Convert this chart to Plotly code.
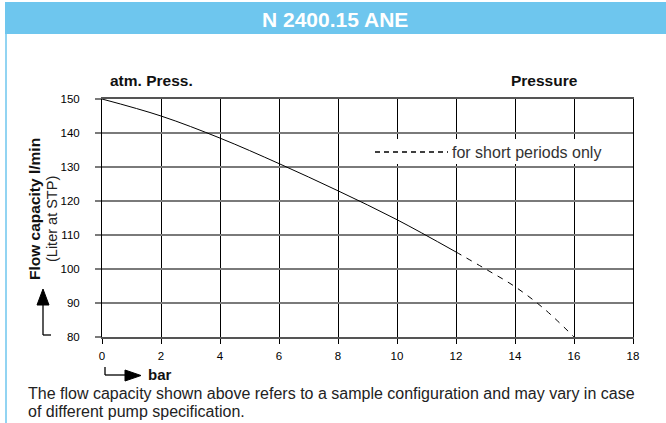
import plotly.graph_objects as go

# ---- data ----
pressure_solid = [0, 2, 4, 6, 8, 10, 12]
flow_solid = [150, 145, 138.5, 131, 123, 114.5, 105]
pressure_dashed = [12, 13, 14, 15, 16]
flow_dashed = [105, 100, 94.8, 88.2, 80]
x_ticks = [0, 2, 4, 6, 8, 10, 12, 14, 16, 18]
y_ticks = [80, 90, 100, 110, 120, 130, 140, 150]

W, H = 666, 423
L, R, T, B = 102, 633, 99, 337  # plot area in window pixels


def px(x):
    return (x - L) / (R - L)


def py(y):
    return (B - y) / (B - T)


fig = go.Figure()
fig.add_trace(go.Scatter(x=pressure_solid, y=flow_solid, mode="lines",
                         line=dict(color="black", width=1, shape="spline"),
                         showlegend=False, hoverinfo="skip"))
fig.add_trace(go.Scatter(x=pressure_dashed, y=flow_dashed, mode="lines",
                         line=dict(color="black", width=1, shape="spline", dash="6px,6px"),
                         showlegend=False, hoverinfo="skip"))

tickfont = dict(family="Liberation Sans Narrow, Liberation Sans, Arial", size=11.5, color="black")

fig.update_xaxes(range=[0, 18], tickvals=x_ticks, ticktext=[str(v) for v in x_ticks],
                 showgrid=True, gridcolor="black", gridwidth=1,
                 ticks="outside", ticklen=5, tickcolor="black", tickwidth=1,
                 showline=True, linecolor="#555", linewidth=2, mirror=True,
                 zeroline=False, tickfont=tickfont, fixedrange=True,
                 ticklabelstandoff=2)
fig.update_yaxes(range=[80, 150], tickvals=y_ticks, ticktext=[str(v) for v in y_ticks],
                 showgrid=True, gridcolor="#7a7a7a", gridwidth=2,
                 ticks="outside", ticklen=6, tickcolor="#7a7a7a", tickwidth=2,
                 showline=True, linecolor="black", linewidth=1, mirror=True,
                 zeroline=False, tickfont=tickfont, fixedrange=True,
                 ticklabelstandoff=13)

blue = "#6EC6EE"
shapes = []
# title bar
shapes.append(dict(type="rect", xref="paper", yref="paper",
                   x0=px(5), x1=px(668), y0=py(34), y1=py(2),
                   fillcolor=blue, line=dict(width=0), layer="below"))
# left border line
shapes.append(dict(type="line", xref="paper", yref="paper",
                   x0=px(6), x1=px(6), y0=py(34), y1=py(425),
                   line=dict(color=blue, width=1.5)))
# legend white box (hides grid behind legend)
shapes.append(dict(type="rect", xref="paper", yref="paper",
                   x0=px(371), x1=px(606), y0=py(164), y1=py(139),
                   fillcolor="white", line=dict(width=0), layer="above"))
# legend dashes
shapes.append(dict(type="line", xref="paper", yref="paper",
                   x0=px(375), x1=px(448), y0=py(152), y1=py(152),
                   line=dict(color="black", width=1.3, dash="5px,4px"), layer="above"))
# y arrow
shapes.append(dict(type="line", xref="paper", yref="paper",
                   x0=px(43), x1=px(43), y0=py(335), y1=py(303),
                   line=dict(color="black", width=1.3)))
shapes.append(dict(type="line", xref="paper", yref="paper",
                   x0=px(43), x1=px(51), y0=py(335), y1=py(335),
                   line=dict(color="black", width=1.3)))
shapes.append(dict(type="path", xref="paper", yref="paper",
                   path=f"M {px(37)} {py(305)} L {px(49)} {py(305)} L {px(43)} {py(289)} Z",
                   fillcolor="black", line=dict(color="black", width=1)))
# x arrow
shapes.append(dict(type="line", xref="paper", yref="paper",
                   x0=px(105), x1=px(105), y0=py(367), y1=py(375),
                   line=dict(color="black", width=1.3)))
shapes.append(dict(type="line", xref="paper", yref="paper",
                   x0=px(105), x1=px(126), y0=py(375), y1=py(375),
                   line=dict(color="black", width=1.3)))
shapes.append(dict(type="path", xref="paper", yref="paper",
                   path=f"M {px(125)} {py(370)} L {px(125)} {py(381)} L {px(141)} {py(375.5)} Z",
                   fillcolor="black", line=dict(color="black", width=1)))

annotations = []
base = "Liberation Sans, Arial, sans-serif"
narrow = "Liberation Sans Narrow, Liberation Sans, Arial"
annotations.append(dict(text="<b>N 2400.15 ANE</b>", xref="paper", yref="paper",
                        x=px(335), y=py(19), showarrow=False,
                        font=dict(family=narrow, size=21, color="white"),
                        xanchor="center", yanchor="middle"))
annotations.append(dict(text="<b>atm. Press.</b>", xref="paper", yref="paper",
                        x=px(151), y=py(80), showarrow=False,
                        font=dict(family=base, size=15.5, color="#111"),
                        xanchor="center", yanchor="middle"))
annotations.append(dict(text="<b>Pressure</b>", xref="paper", yref="paper",
                        x=px(544), y=py(80), showarrow=False,
                        font=dict(family=base, size=15.5, color="#111"),
                        xanchor="center", yanchor="middle"))
annotations.append(dict(text="for short periods only", xref="paper", yref="paper",
                        x=px(450), y=py(152), showarrow=False,
                        font=dict(family=base, size=16, color="#333"),
                        xanchor="left", yanchor="middle"))
annotations.append(dict(text="<b>Flow capacity l/min</b>", xref="paper", yref="paper",
                        x=px(34), y=py(209), showarrow=False, textangle=-90,
                        font=dict(family=base, size=15.5, color="#111"),
                        xanchor="center", yanchor="middle"))
annotations.append(dict(text="(Liter at STP)", xref="paper", yref="paper",
                        x=px(52), y=py(219), showarrow=False, textangle=-90,
                        font=dict(family=base, size=14.5, color="#222"),
                        xanchor="center", yanchor="middle"))
annotations.append(dict(text="<b>bar</b>", xref="paper", yref="paper",
                        x=px(146), y=py(374), showarrow=False,
                        font=dict(family=base, size=15, color="#111"),
                        xanchor="left", yanchor="middle"))
annotations.append(dict(text="The flow capacity shown above refers to a sample configuration and may vary in case",
                        xref="paper", yref="paper",
                        x=px(26), y=py(393), showarrow=False, align="left",
                        font=dict(family=base, size=16, color="#222"),
                        xanchor="left", yanchor="middle"))
annotations.append(dict(text="of different pump specification.",
                        xref="paper", yref="paper",
                        x=px(26), y=py(411), showarrow=False, align="left",
                        font=dict(family=base, size=16, color="#222"),
                        xanchor="left", yanchor="middle"))

fig.update_layout(width=W, height=H,
                  margin=dict(l=L, r=W - R, t=T, b=H - B, pad=0),
                  paper_bgcolor="white", plot_bgcolor="white",
                  shapes=shapes, annotations=annotations, showlegend=False)

fig.write_html("out.html", config={"displayModeBar": False},
               post_script="document.body.style.margin='0px';document.body.style.overflow='hidden';")
